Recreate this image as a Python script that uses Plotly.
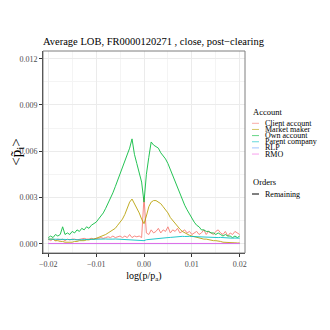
import numpy as np
import plotly.graph_objects as go

# log(p/pa) grid, step 0.0005
x_vals = [round(-0.02 + 0.0005 * i, 4) for i in range(81)]

# average LOB depth per account, in units of 1e-4
client_account = [3, 2, 3, 2, 3, 2.5, 3, 2, 3, 2.5, 3, 3, 2.5, 3, 3, 3.5, 3, 3, 3.5, 3, 3.5,
                  3.5, 4, 3.5, 4, 4.5, 4, 5, 4, 4.5, 5, 4, 5, 4, 6, 4, 5, 4.5, 5, 4,
                  30,
                  7, 6, 9, 7, 8, 10, 7, 9, 8, 11, 7, 9, 8, 10, 7, 8, 9, 7, 8, 6,
                  7, 8, 6, 7, 9, 6, 8, 7, 6, 8, 9, 7, 6, 8, 5, 7, 6, 8, 7, 6]
market_maker = [3, 3, 3, 2, 2, 1.5, 1.5, 1, 1, 1, 1, 1.5, 1.5, 2, 2, 2, 2.5, 2.5, 3, 3, 3.5,
                4, 4.5, 5, 6, 7, 8, 9, 10, 12, 14, 16, 19, 23, 27, 29, 26, 24, 20, 16,
                13,
                18, 24, 27, 28, 28, 27, 26, 24, 22, 20, 17, 15, 13, 11, 9.5, 8, 7, 6, 5.5, 5,
                4.5, 4, 4, 3.5, 3, 3, 2.5, 2.5, 2, 2, 1.5, 1.5, 1, 1, 1, 0.8, 0.7, 0.6, 0.5, 0.5]
own_account = [4, 5, 4, 6, 5, 6, 11, 6, 7, 6, 8, 7, 9, 8, 10, 9, 11, 10, 12, 13, 14,
               16, 18, 20, 23, 26, 29, 33, 37, 41, 45, 50, 53, 58, 62, 68, 58, 52, 45, 40,
               27,
               45, 56, 66, 64, 63, 62, 59, 57, 55, 52, 48, 45, 41, 37, 32, 28, 25, 22, 19, 16,
               14, 12, 11, 9, 9, 8, 8, 7, 7, 6, 7, 6, 5, 6, 5, 5, 4, 5, 4, 5]
parent_company = [3, 3, 3.2, 3, 3, 2.8, 3, 2.8, 2.7, 2.8, 2.6, 2.7, 2.6, 2.8, 2.6, 2.7, 2.8, 2.7, 2.8, 2.9, 2.8,
                  3, 2.9, 3, 3.1, 3, 3.2, 3, 3.1, 3, 2.9, 3, 2.8, 2.9, 2.7, 2.8, 2.6, 2.7, 2.5, 2.4,
                  2,
                  2.6, 2.8, 3, 3.2, 3.3, 3.5, 3.6, 3.8, 3.9, 4, 4.1, 4.3, 4.4, 4.5, 4.6, 4.8, 4.7, 4.9, 4.8, 4.7,
                  4.6, 4.7, 4.5, 4.6, 4.4, 4.5, 4.3, 4.2, 4.3, 4.1, 4, 4.1, 3.9, 3.8, 3.9, 3.7, 3.6, 3.7, 3.5, 3.6]
rlp = [0.1] * 81
rmo = [0.2] * 81

accounts = ["Client account", "Market maker", "Own account", "Parent company", "RLP", "RMO"]
series = [client_account, market_maker, own_account, parent_company, rlp, rmo]
colors = ["#F8766D", "#B79F00", "#00BA38", "#00BFC4", "#619CFF", "#F564E3"]

font = "Liberation Serif"

fig = go.Figure()
for name, vals, col in zip(accounts, series, colors):
    fig.add_trace(go.Scatter(x=x_vals, y=np.array(vals) * 1e-4, mode="lines", name=name,
                             line=dict(color=col, width=1), opacity=0.85, showlegend=False))

# the page body adds an 8px offset, so work in figure pixels = screen pixels - 8
OFF = 8
W = H = 330 - OFF
L, R, T, B = 43 - OFF, 245 - OFF, 51 - OFF, 253 - OFF
def px(x):
    return (x - OFF - L) / (R - L)
def py(y):
    return (B - (y - OFF)) / (B - T)

shapes = [dict(type="rect", xref="paper", yref="paper", x0=0, x1=1, y0=0, y1=1,
               line=dict(color="#7F7F7F", width=1))]
annotations = [dict(text="Account", x=px(251), y=py(112), xref="paper", yref="paper",
                    xanchor="left", yanchor="middle", showarrow=False,
                    font=dict(family=font, size=8.5, color="black"))]
for k, (name, col) in enumerate(zip(accounts, colors)):
    yy = 123.3 + k * 6.15
    shapes.append(dict(type="line", xref="paper", yref="paper", x0=px(252), x1=px(259),
                       y0=py(yy), y1=py(yy), line=dict(color=col, width=1), opacity=0.6))
    annotations.append(dict(text=name, x=px(263), y=py(yy), xref="paper", yref="paper",
                            xanchor="left", yanchor="middle", showarrow=False,
                            font=dict(family=font, size=8, color="black")))
annotations.append(dict(text="Orders", x=px(251), y=py(182), xref="paper", yref="paper",
                        xanchor="left", yanchor="middle", showarrow=False,
                        font=dict(family=font, size=8.5, color="black")))
shapes.append(dict(type="line", xref="paper", yref="paper", x0=px(252), x1=px(259),
                   y0=py(194), y1=py(194), line=dict(color="black", width=1)))
annotations.append(dict(text="Remaining", x=px(263), y=py(194), xref="paper", yref="paper",
                        xanchor="left", yanchor="middle", showarrow=False,
                        font=dict(family=font, size=8, color="black")))

fig.update_layout(
    width=W, height=H,
    margin=dict(l=L, r=W - R, t=T, b=H - B, autoexpand=False),
    paper_bgcolor="white", plot_bgcolor="white",
    font=dict(family=font, size=8, color="#4D4D4D"),
    title=dict(text="Average LOB, FR0000120271 , close, post\u2212clearing",
               xref="paper", x=0, xanchor="left", yref="container", y=1 - 37 / H,
               yanchor="bottom", font=dict(family=font, size=10.5, color="black")),
    shapes=shapes, annotations=annotations, showlegend=False,
)
fig.update_xaxes(range=[-0.0211, 0.0211], tickvals=[-0.02, -0.01, 0, 0.01, 0.02],
                 tickformat=".2f", ticks="outside", ticklen=3, tickcolor="#333333",
                 showline=True, linecolor="#333333", linewidth=1, zeroline=False,
                 gridcolor="#EBEBEB", gridwidth=0.8, automargin=False,
                 minor=dict(tickvals=[-0.015, -0.005, 0.005, 0.015], showgrid=True,
                            gridcolor="#F4F4F4", gridwidth=0.5),
                 title=dict(text="log(p/p<sub>a</sub>)", standoff=4,
                            font=dict(family=font, size=10, color="black")))
fig.update_yaxes(range=[-0.0006, 0.0125], tickvals=[0, 0.003, 0.006, 0.009, 0.012],
                 tickformat=".3f", ticks="outside", ticklen=3, tickcolor="#333333",
                 showline=True, linecolor="#333333", linewidth=1, zeroline=False,
                 gridcolor="#EBEBEB", gridwidth=0.8, automargin=False,
                 minor=dict(tickvals=[0.0015, 0.0045, 0.0075, 0.0105], showgrid=True,
                            gridcolor="#F4F4F4", gridwidth=0.5),
                 title=dict(text="&lt;p\u0303<sub>i</sub>&gt;", standoff=6,
                            font=dict(family=font, size=15, color="black")))

fig.write_html("out.html")
